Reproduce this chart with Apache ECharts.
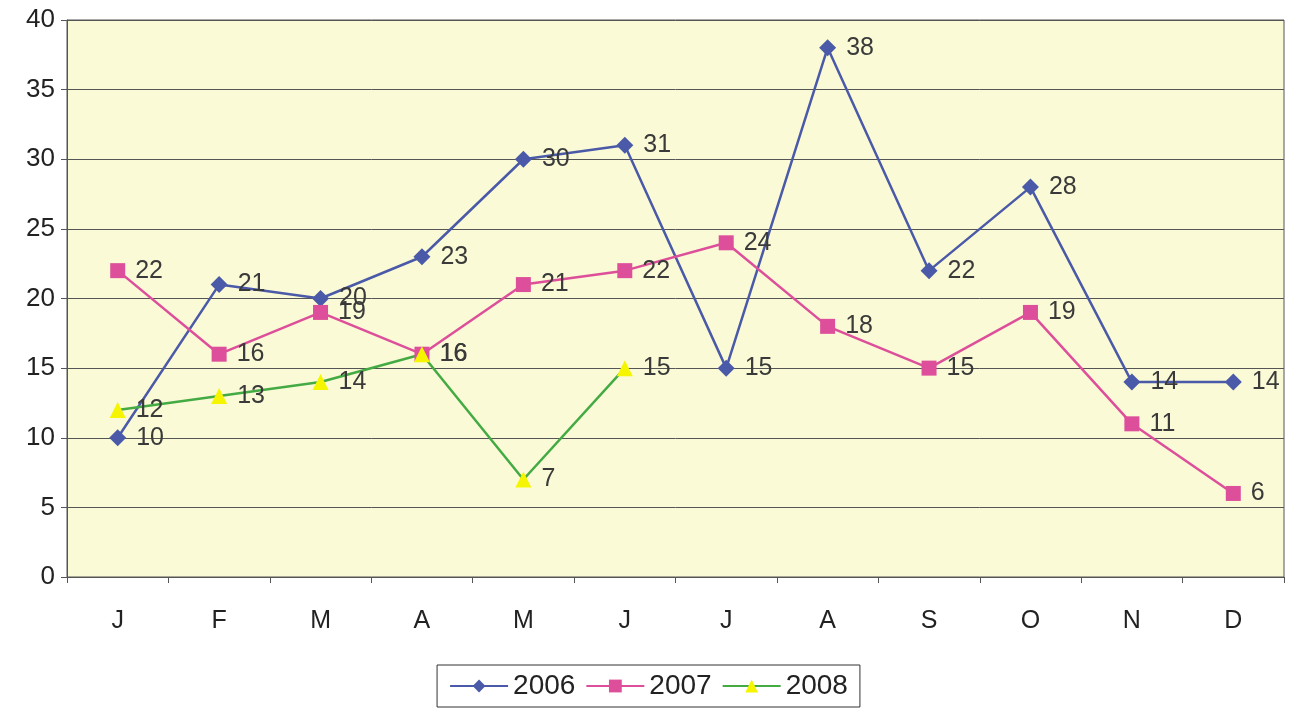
<!DOCTYPE html>
<html>
<head>
<meta charset="utf-8">
<script src="https://cdn.jsdelivr.net/npm/echarts@6/dist/echarts.min.js"></script>
<style>
  html, body { margin: 0; padding: 0; background: #fff; }
  #main { width: 1297px; height: 709px; }
</style>
</head>
<body>
<div id="main"></div>
<script>
// data
var months = ['J', 'F', 'M', 'A', 'M', 'J', 'J', 'A', 'S', 'O', 'N', 'D'];
var y2006 = [10, 21, 20, 23, 30, 31, 15, 38, 22, 28, 14, 14];
var y2007 = [22, 16, 19, 16, 21, 22, 24, 18, 15, 19, 11, 6];
var y2008 = [12, 13, 14, 16, 7, 15, null, null, null, null, null, null];

var myChart = echarts.init(document.getElementById('main'));

var labelStyle = {
    show: true,
    position: 'right',
    distance: 10,
    color: '#3a3a3a',
    fontSize: 25,
    fontFamily: 'Liberation Sans, Arial, sans-serif'
};

var option = {
    animation: false,
    grid: {
        left: 67,
        right: 13,
        top: 20,
        bottom: 132,
        show: true,
        backgroundColor: '#fbfad6',
        borderColor: '#555',
        borderWidth: 1
    },
    legend: {
        bottom: 2,
        left: 'center',
        itemWidth: 58,
        itemHeight: 16,
        itemGap: 10,
        padding: [7, 12],
        borderColor: '#333',
        borderWidth: 1,
        textStyle: {
            color: '#222',
            fontSize: 28,
            fontFamily: 'Liberation Sans, Arial, sans-serif'
        },
        data: ['2006', '2007', '2008']
    },
    xAxis: {
        type: 'category',
        data: months,
        boundaryGap: true,
        axisLine: { lineStyle: { color: '#555' } },
        axisTick: { show: true, length: 6, lineStyle: { color: '#555' } },
        axisLabel: {
            color: '#222',
            fontSize: 25,
            margin: 32,
            fontFamily: 'Liberation Sans, Arial, sans-serif'
        }
    },
    yAxis: {
        type: 'value',
        min: 0,
        max: 40,
        interval: 5,
        axisLine: { show: true, lineStyle: { color: '#555' } },
        axisTick: { show: true, length: 6, lineStyle: { color: '#555' } },
        splitLine: { lineStyle: { color: '#555', width: 1 } },
        axisLabel: {
            color: '#222',
            fontSize: 26,
            margin: 12,
            fontFamily: 'Liberation Sans, Arial, sans-serif'
        }
    },
    series: [
        {
            name: '2006',
            type: 'line',
            data: y2006,
            symbol: 'diamond',
            symbolSize: 17,
            itemStyle: { color: '#4a5aa8' },
            lineStyle: { color: '#4a5aa8', width: 2.5 },
            label: labelStyle
        },
        {
            name: '2007',
            type: 'line',
            data: y2007,
            symbol: 'rect',
            symbolSize: 15,
            itemStyle: { color: '#dd4f9a' },
            lineStyle: { color: '#dd4f9a', width: 2.5 },
            label: labelStyle
        },
        {
            name: '2008',
            type: 'line',
            data: y2008,
            symbol: 'triangle',
            symbolSize: 16,
            itemStyle: { color: '#f5f500' },
            lineStyle: { color: '#44aa44', width: 2.5 },
            label: labelStyle
        }
    ]
};

myChart.setOption(option);
</script>
</body>
</html>
